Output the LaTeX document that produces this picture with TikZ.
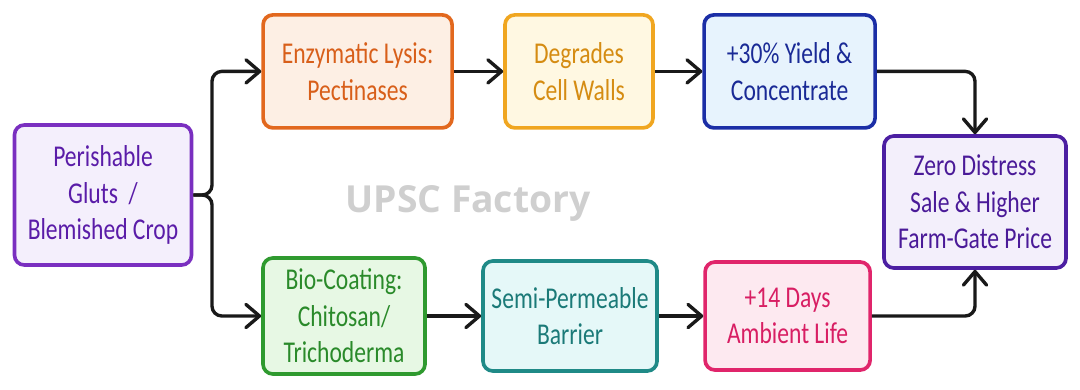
\documentclass[tikz,border=0pt]{standalone}
\usepackage{fontspec}
\usepackage{xcolor}
\usetikzlibrary{arrows.meta,positioning,calc}
\newfontfamily\handfont[FakeStretch=0.78]{Carlito}
\newfontfamily\markfont{Open Sans}

\definecolor{srcline}{HTML}{7A2FC0}\definecolor{srcfill}{HTML}{F4EFFC}\definecolor{srctext}{HTML}{5A1CA8}
\definecolor{enzline}{HTML}{E2681E}\definecolor{enzfill}{HTML}{FDEFE4}\definecolor{enztext}{HTML}{D85F1A}
\definecolor{degline}{HTML}{F0A620}\definecolor{degfill}{HTML}{FFF8E2}\definecolor{degtext}{HTML}{D58C12}
\definecolor{yldline}{HTML}{1B2EA6}\definecolor{yldfill}{HTML}{E7F3FD}\definecolor{yldtext}{HTML}{1A2A96}
\definecolor{zeroline}{HTML}{4C1FA2}\definecolor{zerofill}{HTML}{F3EFFB}\definecolor{zerotext}{HTML}{4A1A98}
\definecolor{bioline}{HTML}{2F9A2F}\definecolor{biofill}{HTML}{E7F8E4}\definecolor{biotext}{HTML}{2A8A2A}
\definecolor{semiline}{HTML}{1F8A87}\definecolor{semifill}{HTML}{E5F8F8}\definecolor{semitext}{HTML}{1B7A78}
\definecolor{daysline}{HTML}{E0256B}\definecolor{daysfill}{HTML}{FDE9F0}\definecolor{daystext}{HTML}{D81E63}

\begin{document}
\begin{tikzpicture}[
    >={Straight Barb[length=3.4mm,width=5.8mm,line cap=round,line join=round]},
    flow/.style={->,line width=2.4pt,draw=black!90,rounded corners=7pt},
    card/.style={draw=#1line,fill=#1fill,text=#1text,line width=2.6pt,
      rounded corners=7pt,align=center,
      font=\handfont\fontsize{21.5}{26}\selectfont},
    watermark/.style={text=black!19,font=\markfont\bfseries\fontsize{26.5}{30}\selectfont}
  ]
    \useasboundingbox (0,0) rectangle (27,9.725);

    \node[watermark] (mark) at (11.7,4.65) {UPSC Factory};

    % source and the fork
    \node[card=src,minimum width=4.425cm,minimum height=3.5cm] (src) at (2.575,4.85)
      {Perishable\\Gluts~~/\\Blemished Crop};
    \coordinate (fork) at (5.3,4.85);

    % top row
    \node[card=enz,minimum width=4.725cm,minimum height=2.825cm] (enz) at (8.94,7.94)
      {Enzymatic Lysis:\\Pectinases};
    \node[card=deg,minimum width=3.7cm,minimum height=2.825cm] (deg) at (14.475,7.94)
      {Degrades\\Cell Walls};
    \node[card=yld,minimum width=4.275cm,minimum height=2.825cm] (yld) at (19.74,7.94)
      {+30\% Yield \&\\Concentrate};

    % bottom row
    \node[card=bio,minimum width=4.05cm,minimum height=2.9cm] (bio) at (8.6,1.825)
      {Bio-Coating:\\Chitosan/\\Trichoderma};
    \node[card=semi,minimum width=4.35cm,minimum height=2.75cm] (semi) at (14.25,1.825)
      {Semi-Permeable\\Barrier};
    \node[card=days,minimum width=4.125cm,minimum height=2.7cm] (days) at (19.69,1.825)
      {+14 Days\\Ambient Life};

    % outcome
    \node[card=zero,minimum width=4.55cm,minimum height=3.3cm] (zero) at (24.375,4.675)
      {Zero Distress\\Sale \& Higher\\Farm-Gate Price};

    \draw[flow] (src.east) -- (fork) |- (enz.west);
    \draw[flow] (src.east) -- (fork) |- (bio.west);
    \draw[flow] (enz) -- (deg);
    \draw[flow] (deg) -- (yld);
    \draw[flow] (bio) -- (semi);
    \draw[flow] (semi) -- (days);
    \draw[flow] (yld.east) -| (zero.north);
    \draw[flow] (days.east) -| (zero.south);
  \end{tikzpicture}
\end{document}
